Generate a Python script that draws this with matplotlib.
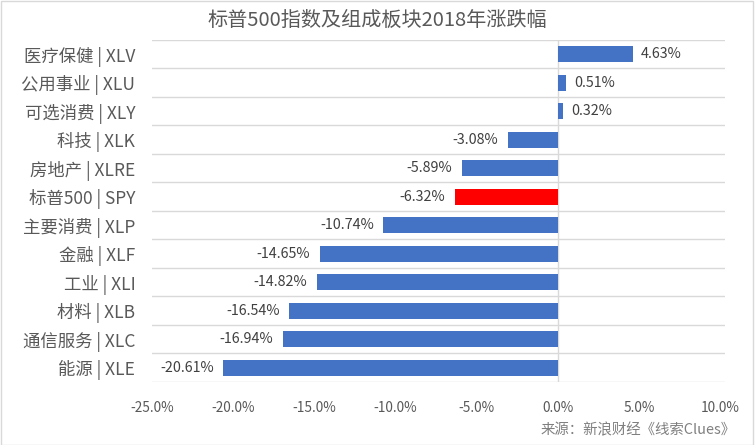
import matplotlib
matplotlib.use("Agg")
from matplotlib import pyplot as plt
import matplotlib.ticker as mtick

plt.rcParams['font.family'] = ['Noto Sans CJK SC', 'DejaVu Sans']

# data, top to bottom as in the chart
sectors = ['医疗保健 | XLV', '公用事业 | XLU', '可选消费 | XLY', '科技 | XLK', '房地产 | XLRE',
           '标普500 | SPY', '主要消费 | XLP', '金融 | XLF', '工业 | XLI', '材料 | XLB',
           '通信服务 | XLC', '能源 | XLE']
changes = [4.63, 0.51, 0.32, -3.08, -5.89, -6.32, -10.74, -14.65, -14.82, -16.54, -16.94, -20.61]
highlight = '标普500 | SPY'

fig = plt.figure(figsize=(7.55, 4.45), dpi=100)
ax = fig.add_axes([0.2013, 0.1416, 0.759, 0.7686])

ypos = list(range(len(sectors)))[::-1]
colors = ['#FF0000' if s == highlight else '#4472C4' for s in sectors]
ax.barh(ypos, changes, height=0.56, color=colors, zorder=3)

for y, v in zip(ypos, changes):
    if v >= 0:
        ax.text(v + 0.5, y, '{:.2f}%'.format(v), va='center', ha='left', fontsize=10.3, color='#404040')
    else:
        ax.text(v - 0.6, y, '{:.2f}%'.format(v), va='center', ha='right', fontsize=10.3, color='#404040')

ax.set_xlim(-25, 10.3)
ax.set_ylim(-0.5, len(sectors) - 0.5)
ax.set_xticks([-25, -20, -15, -10, -5, 0, 5, 10])
ax.xaxis.set_major_formatter(mtick.FuncFormatter(lambda x, p: '{:.1f}%'.format(x)))
ax.set_yticks(ypos)
ax.set_yticklabels(sectors)

# category separators
for b in [i - 0.5 for i in range(len(sectors) + 1)]:
    ax.axhline(b, color='#D9D9D9', lw=1, zorder=1)
ax.axvline(0, color='#D9D9D9', lw=1, zorder=2)

for sp in ax.spines.values():
    sp.set_visible(False)
ax.tick_params(axis='both', length=0)
ax.tick_params(axis='y', labelsize=12.5, labelcolor='#595959', pad=12)
ax.tick_params(axis='x', labelsize=9.8, labelcolor='#595959', pad=14)

fig.text(0.5, 0.953, '标普500指数及组成板块2018年涨跌幅', ha='center', va='center',
         fontsize=14.5, color='#595959')
fig.text(0.975, 0.033, '来源：新浪财经《线索Clues》', ha='right', va='center',
         fontsize=10.4, color='#7F7F7F')

# outer frame
fig.patches.append(plt.Rectangle((0.001, 0.001), 0.997, 0.997, transform=fig.transFigure,
                                 fill=False, edgecolor='#D9D9D9', lw=1))

fig.savefig('out.png', dpi=100)
